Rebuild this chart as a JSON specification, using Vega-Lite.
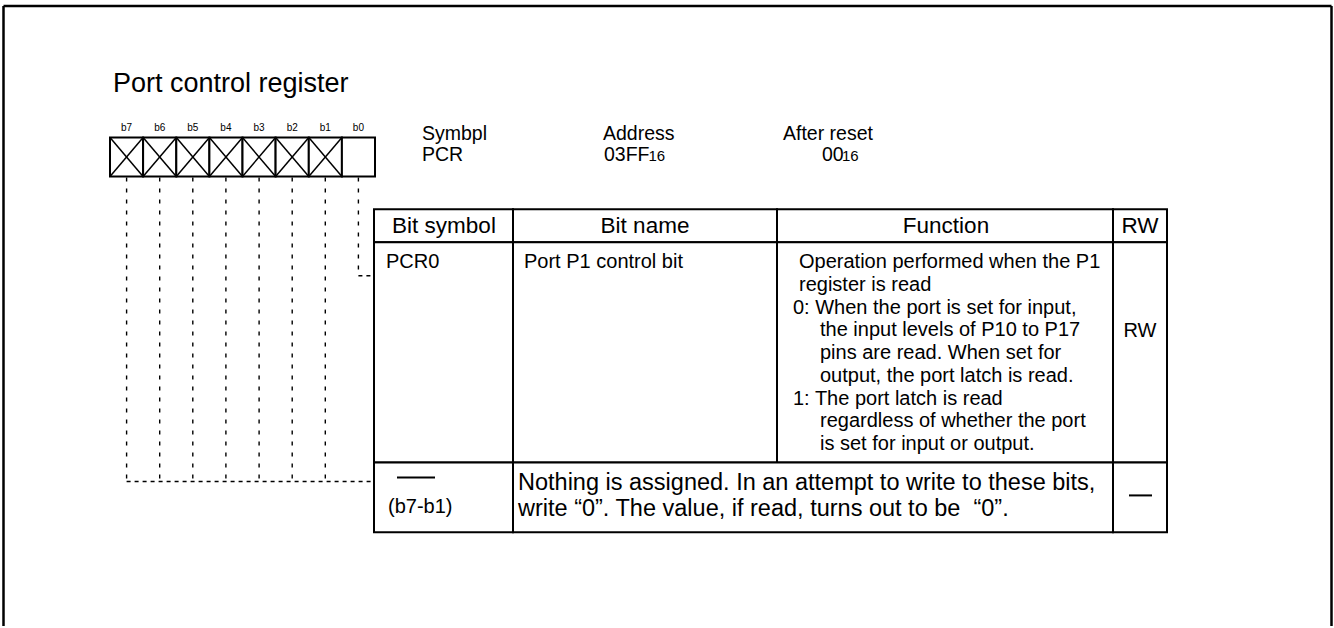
{
  "$schema": "https://vega.github.io/schema/vega-lite/v6.json",
  "width": 1334,
  "height": 628,
  "autosize": {"type": "fit", "contains": "padding"},
  "padding": 0,
  "background": "white",
  "config": {"view": {"stroke": null}, "text": {"font": "Liberation Sans", "color": "black"}},
  "datasets": {
    "frame": [
      {"x": 3.5, "y": 6, "x2": 3.5, "y2": 628},
      {"x": 3.5, "y": 6, "x2": 1331.5, "y2": 6},
      {"x": 1331.5, "y": 6, "x2": 1331.5, "y2": 628}
    ],
    "cells": [
      {"x": 374, "x2": 513, "y": 210, "y2": 243},
      {"x": 513, "x2": 777, "y": 210, "y2": 243},
      {"x": 777, "x2": 1113, "y": 210, "y2": 243},
      {"x": 1113, "x2": 1167, "y": 210, "y2": 243},
      {"x": 374, "x2": 513, "y": 243, "y2": 464},
      {"x": 513, "x2": 777, "y": 243, "y2": 464},
      {"x": 777, "x2": 1113, "y": 243, "y2": 464},
      {"x": 1113, "x2": 1167, "y": 243, "y2": 464},
      {"x": 374, "x2": 513, "y": 464, "y2": 534},
      {"x": 513, "x2": 1113, "y": 464, "y2": 534},
      {"x": 1113, "x2": 1167, "y": 464, "y2": 534}
    ],
    "bits": [
      {"bit": "b7", "x": 110, "x2": 143.1, "cx": 126.6},
      {"bit": "b6", "x": 143.1, "x2": 176.3, "cx": 159.7},
      {"bit": "b5", "x": 176.3, "x2": 209.4, "cx": 192.8},
      {"bit": "b4", "x": 209.4, "x2": 242.5, "cx": 225.9},
      {"bit": "b3", "x": 242.5, "x2": 275.6, "cx": 259.1},
      {"bit": "b2", "x": 275.6, "x2": 308.8, "cx": 292.2},
      {"bit": "b1", "x": 308.8, "x2": 341.9, "cx": 325.3},
      {"bit": "b0", "x": 341.9, "x2": 375, "cx": 358.4}
    ],
    "crosses": [
      {"x": 110, "y": 138, "x2": 143.1, "y2": 177},
      {"x": 110, "y": 177, "x2": 143.1, "y2": 138},
      {"x": 143.1, "y": 138, "x2": 176.3, "y2": 177},
      {"x": 143.1, "y": 177, "x2": 176.3, "y2": 138},
      {"x": 176.3, "y": 138, "x2": 209.4, "y2": 177},
      {"x": 176.3, "y": 177, "x2": 209.4, "y2": 138},
      {"x": 209.4, "y": 138, "x2": 242.5, "y2": 177},
      {"x": 209.4, "y": 177, "x2": 242.5, "y2": 138},
      {"x": 242.5, "y": 138, "x2": 275.6, "y2": 177},
      {"x": 242.5, "y": 177, "x2": 275.6, "y2": 138},
      {"x": 275.6, "y": 138, "x2": 308.8, "y2": 177},
      {"x": 275.6, "y": 177, "x2": 308.8, "y2": 138},
      {"x": 308.8, "y": 138, "x2": 341.9, "y2": 177},
      {"x": 308.8, "y": 177, "x2": 341.9, "y2": 138}
    ],
    "vlead": [
      {"x": 126.6, "y": 178, "x2": 126.6, "y2": 483},
      {"x": 159.7, "y": 178, "x2": 159.7, "y2": 483},
      {"x": 192.8, "y": 178, "x2": 192.8, "y2": 483},
      {"x": 225.9, "y": 178, "x2": 225.9, "y2": 483},
      {"x": 259.1, "y": 178, "x2": 259.1, "y2": 483},
      {"x": 292.2, "y": 178, "x2": 292.2, "y2": 483},
      {"x": 325.3, "y": 178, "x2": 325.3, "y2": 483},
      {"x": 358.4, "y": 178, "x2": 358.4, "y2": 276.7}
    ],
    "hlead": [
      {"x": 126.6, "y": 483, "x2": 374, "y2": 483},
      {"x": 358.4, "y": 276.7, "x2": 374, "y2": 276.7}
    ],
    "dashes": [
      {"x": 397, "x2": 435, "y": 479},
      {"x": 1129, "x2": 1152, "y": 497}
    ],
    "title": [
      {"t": "Port control register", "x": 113, "y": 92}
    ],
    "info": [
      {"t": "Symbpl", "x": 422, "y": 140},
      {"t": "PCR", "x": 422, "y": 162},
      {"t": "Address", "x": 603, "y": 140},
      {"t": "03FF", "x": 604, "y": 162},
      {"t": "After reset", "x": 783, "y": 140},
      {"t": "00", "x": 822, "y": 162}
    ],
    "subs": [
      {"t": "16", "x": 648.5, "y": 162},
      {"t": "16", "x": 842, "y": 162}
    ],
    "headers": [
      {"t": "Bit symbol", "x": 444, "y": 234},
      {"t": "Bit name", "x": 645, "y": 234},
      {"t": "Function", "x": 946, "y": 234},
      {"t": "RW", "x": 1140, "y": 234}
    ],
    "body": [
      {"t": "PCR0", "x": 386, "y": 269},
      {"t": "Port P1 control bit", "x": 524, "y": 269},
      {"t": "Operation performed when the P1", "x": 799, "y": 269},
      {"t": "register is read", "x": 799, "y": 291.8},
      {"t": "0: When the port is set for input,", "x": 793, "y": 314.6},
      {"t": "the input levels of P10 to P17", "x": 820, "y": 337.4},
      {"t": "pins are read. When set for", "x": 820, "y": 360.2},
      {"t": "output, the port latch is read.", "x": 820, "y": 383},
      {"t": "1: The port latch is read", "x": 793, "y": 405.8},
      {"t": "regardless of whether the port", "x": 820, "y": 428.6},
      {"t": "is set for input or output.", "x": 820, "y": 451.4},
      {"t": "(b7-b1)", "x": 388, "y": 515}
    ],
    "centered": [
      {"t": "RW", "x": 1140, "y": 338}
    ],
    "note": [
      {"t": "Nothing is assigned. In an attempt to write to these bits,", "x": 518, "y": 492},
      {"t": "write “0”. The value, if read, turns out to be \u00a0“0”.", "x": 518, "y": 518}
    ]
  },
  "layer": [
    {
      "data": {"name": "frame"},
      "mark": {"type": "rule", "color": "black", "strokeWidth": 2.5},
      "encoding": {
        "x": {"field": "x", "type": "quantitative", "scale": {"domain": [0, 1334], "nice": false, "zero": false}, "axis": null},
        "y": {"field": "y", "type": "quantitative", "scale": {"domain": [0, 628], "nice": false, "zero": false, "reverse": true}, "axis": null},
        "x2": {"field": "x2"},
        "y2": {"field": "y2"}
      }
    },
    {
      "data": {"name": "vlead"},
      "mark": {"type": "rule", "color": "black", "strokeWidth": 1.4, "strokeDash": [4, 7]},
      "encoding": {
        "x": {"field": "x", "type": "quantitative", "axis": null},
        "y": {"field": "y", "type": "quantitative", "axis": null},
        "x2": {"field": "x2"},
        "y2": {"field": "y2"}
      }
    },
    {
      "data": {"name": "hlead"},
      "mark": {"type": "rule", "color": "black", "strokeWidth": 1.4, "strokeDash": [4, 4]},
      "encoding": {
        "x": {"field": "x", "type": "quantitative", "axis": null},
        "y": {"field": "y", "type": "quantitative", "axis": null},
        "x2": {"field": "x2"},
        "y2": {"field": "y2"}
      }
    },
    {
      "data": {"name": "cells"},
      "mark": {"type": "rect", "fill": "white", "stroke": "black", "strokeWidth": 2},
      "encoding": {
        "x": {"field": "x", "type": "quantitative", "axis": null},
        "y": {"field": "y", "type": "quantitative", "axis": null},
        "x2": {"field": "x2"},
        "y2": {"field": "y2"}
      }
    },
    {
      "data": {"name": "bits"},
      "mark": {"type": "rect", "fill": "white", "stroke": "black", "strokeWidth": 2},
      "encoding": {
        "x": {"field": "x", "type": "quantitative", "axis": null},
        "x2": {"field": "x2"},
        "y": {"datum": 138, "type": "quantitative", "axis": null},
        "y2": {"datum": 177}
      }
    },
    {
      "data": {"name": "crosses"},
      "mark": {"type": "rule", "color": "black", "strokeWidth": 1.5},
      "encoding": {
        "x": {"field": "x", "type": "quantitative", "axis": null},
        "y": {"field": "y", "type": "quantitative", "axis": null},
        "x2": {"field": "x2"},
        "y2": {"field": "y2"}
      }
    },
    {
      "data": {"name": "dashes"},
      "mark": {"type": "rule", "color": "black", "strokeWidth": 2},
      "encoding": {
        "x": {"field": "x", "type": "quantitative", "axis": null},
        "x2": {"field": "x2"},
        "y": {"field": "y", "type": "quantitative", "axis": null}
      }
    },
    {
      "data": {"name": "bits"},
      "mark": {"type": "text", "fontSize": 10, "align": "center", "baseline": "alphabetic"},
      "encoding": {
        "x": {"field": "cx", "type": "quantitative", "axis": null},
        "y": {"datum": 131.5, "type": "quantitative", "axis": null},
        "text": {"field": "bit", "type": "nominal"}
      }
    },
    {
      "data": {"name": "title"},
      "mark": {"type": "text", "fontSize": 27, "align": "left", "baseline": "alphabetic"},
      "encoding": {
        "x": {"field": "x", "type": "quantitative", "axis": null},
        "y": {"field": "y", "type": "quantitative", "axis": null},
        "text": {"field": "t", "type": "nominal"}
      }
    },
    {
      "data": {"name": "info"},
      "mark": {"type": "text", "fontSize": 19.5, "align": "left", "baseline": "alphabetic"},
      "encoding": {
        "x": {"field": "x", "type": "quantitative", "axis": null},
        "y": {"field": "y", "type": "quantitative", "axis": null},
        "text": {"field": "t", "type": "nominal"}
      }
    },
    {
      "data": {"name": "subs"},
      "mark": {"type": "text", "fontSize": 15, "align": "left", "baseline": "alphabetic"},
      "encoding": {
        "x": {"field": "x", "type": "quantitative", "axis": null},
        "y": {"field": "y", "type": "quantitative", "axis": null},
        "text": {"field": "t", "type": "nominal"}
      }
    },
    {
      "data": {"name": "headers"},
      "mark": {"type": "text", "fontSize": 22.5, "align": "center", "baseline": "alphabetic"},
      "encoding": {
        "x": {"field": "x", "type": "quantitative", "axis": null},
        "y": {"field": "y", "type": "quantitative", "axis": null},
        "text": {"field": "t", "type": "nominal"}
      }
    },
    {
      "data": {"name": "body"},
      "mark": {"type": "text", "fontSize": 20, "align": "left", "baseline": "alphabetic"},
      "encoding": {
        "x": {"field": "x", "type": "quantitative", "axis": null},
        "y": {"field": "y", "type": "quantitative", "axis": null},
        "text": {"field": "t", "type": "nominal"}
      }
    },
    {
      "data": {"name": "centered"},
      "mark": {"type": "text", "fontSize": 20, "align": "center", "baseline": "alphabetic"},
      "encoding": {
        "x": {"field": "x", "type": "quantitative", "axis": null},
        "y": {"field": "y", "type": "quantitative", "axis": null},
        "text": {"field": "t", "type": "nominal"}
      }
    },
    {
      "data": {"name": "note"},
      "mark": {"type": "text", "fontSize": 23.5, "align": "left", "baseline": "alphabetic"},
      "encoding": {
        "x": {"field": "x", "type": "quantitative", "axis": null},
        "y": {"field": "y", "type": "quantitative", "axis": null},
        "text": {"field": "t", "type": "nominal"}
      }
    }
  ]
}
